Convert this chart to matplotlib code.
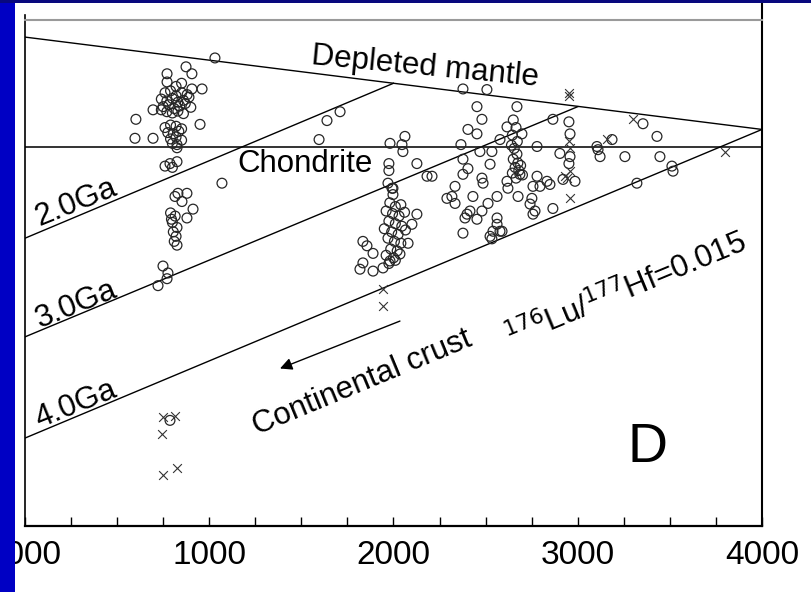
import numpy as np
import matplotlib
matplotlib.use('Agg')
import matplotlib.pyplot as plt
from matplotlib.patches import Rectangle

plt.rcParams['font.family'] = ['Liberation Sans', 'DejaVu Sans']

# axis settings (age in Ma, epsilon Hf)
x_ticks = [0, 1000, 2000, 3000, 4000]
x_tick_labels = ['0000', '1000', '2000', '3000', '4000']
x_range = (0, 4000)
y_range = (-60, 20)

# reference curves
dm_age = [0, 4000]
dm_eps = [17.3, 2.7]
chur_eps = 0.0
crust_age = {'2.0Ga': [0, 2000], '3.0Ga': [0, 3000], '4.0Ga': [0, 4000]}
crust_eps = {'2.0Ga': [-14.5, 10.0], '3.0Ga': [-30.1, 6.3], '4.0Ga': [-46.1, 2.7]}

# zircon analyses, circles
circ_age = [
    1031, 874, 771, 906, 771, 961, 906,
    760, 790, 820, 850, 880, 740, 770, 800, 830, 860, 890, 750, 780, 810, 840, 870,
    800, 830, 860, 770, 740, 900, 820, 850,
    695, 602, 950, 597, 695,
    760, 790, 820, 850, 775, 805, 835, 790, 820, 850, 800, 825, 825,
    787, 825, 760, 800,
    830, 879, 814, 852, 912, 879,
    790, 815, 800, 825, 805, 820, 810, 825, 795,
    1069, 749, 776, 722, 771,
    1710, 1639, 1596,
    1981, 2062, 2051, 2046, 1975, 1975, 2127, 2182, 1970, 1997, 1997, 1992,
    1980, 2010, 2040, 1960, 1995, 2030, 2060, 1975, 2010, 2045, 1950, 1990, 2025, 2065,
    1970, 2005, 2040, 1985, 2020, 1960, 2000, 2035, 1975, 2010,
    2127, 2100, 2079, 1834, 1856, 1889, 1834, 1889, 1943, 1818, 1981,
    2377, 2507, 2453, 2670, 2480, 2404, 2453, 2366, 2469, 2534, 2578, 2616,
    2650, 2665, 2645, 2672, 2655, 2640, 2670, 2650, 2675, 2660, 2680, 2645, 2690, 2700, 2665,
    2697, 2779, 2377, 2404, 2377, 2524, 2480, 2486, 2616, 2621,
    2334, 2317, 2334, 2431, 2562, 2513, 2415, 2480, 2388, 2453,
    2562, 2562, 2589, 2524, 2377, 2676, 2751, 2757, 2779, 2795, 2209,
    2290, 2399, 2540, 2534, 2578, 2686, 2741, 2768, 2865, 2833, 2757, 2920, 2985, 2849,
    2952, 2958, 2958, 2952, 2903, 2865,
    3354, 3430, 3186, 3110, 3104, 3121, 3256, 3446, 3511, 3517, 3321, 787,
]
circ_eps = [
    14.0, 12.6, 11.5, 11.5, 10.2, 9.1, 9.1,
    8.5, 8.8, 8.0, 8.5, 8.2, 7.5, 7.2, 7.6, 7.0, 7.3, 7.8, 6.3, 6.6, 6.0, 6.4, 6.8,
    5.3, 5.6, 5.2, 5.5, 5.8, 6.2, 9.5, 10.0,
    5.8, 4.3, 3.5, 1.3, 1.3,
    3.0, 3.4, 3.2, 2.8, 2.2, 2.0, 2.4, 1.2, 1.5, 1.0, 0.5, 0.3, -0.2,
    -2.7, -2.4, -3.1, -3.3,
    -7.4, -7.4, -7.9, -8.7, -9.9, -11.3,
    -10.5, -11.0, -12.0, -12.8, -13.5, -14.2, -15.0, -15.6, -11.5,
    -5.8, -18.9, -20.0, -22.0, -20.9,
    5.5, 4.1, 1.1,
    0.5, 1.6, -0.8, 0.3, -2.7, -3.8, -2.7, -4.7, -5.8, -6.6, -7.6, -6.6,
    -8.9, -9.5, -9.2, -10.2, -10.6, -11.0, -10.4, -11.8, -12.2, -12.6, -13.0, -13.5, -13.9, -13.2,
    -14.5, -15.0, -15.3, -16.2, -16.5, -17.2, -17.6, -17.0, -18.5, -18.0,
    -10.7, -12.3, -15.3, -15.0, -15.7, -16.9, -18.4, -19.7, -19.2, -19.4, -18.1,
    9.1, 9.0, 6.3, 6.3, 4.3, 2.7, 2.0, 0.3, -0.8, -0.8, 1.1, 3.1,
    4.2, 3.0, 1.8, 0.8, -0.3, 0.2, -1.2, -2.0, -2.6, -3.3, -3.8, -4.2, -3.0, -4.5, -5.0,
    2.0, 0.0, -2.0, -3.5, -4.4, -2.8, -5.0, -5.8, -5.5, -6.6,
    -6.3, -7.9, -9.0, -7.9, -7.9, -9.0, -10.2, -10.2, -11.3, -11.5,
    -11.3, -12.3, -13.4, -14.2, -13.7, -7.9, -8.2, -10.7, -4.7, -6.3, -4.7,
    -8.2, -10.7, -13.4, -14.6, -13.4, -4.4, -9.1, -10.2, -9.8, -5.5, -6.3, -5.2, -5.5, -6.0,
    3.9, 2.0, -1.6, -2.7, -1.1, 4.3,
    3.6, 1.6, 1.1, -0.5, 0.0, -1.6, -1.6, -1.6, -3.1, -3.9, -5.8, -43.3,
]

# zircon analyses, crosses
cross_age = [2952, 2952, 2952, 2958, 2958, 2930, 2958, 2941,
             3300, 3160, 3799, 1943, 1943, 749, 814, 744, 749, 825]
cross_eps = [8.5, 8.0, 0.8, -0.3, -3.9, -4.6, -8.2, -5.0,
             4.3, 1.2, -0.8, -22.5, -25.2, -42.8, -42.6, -45.4, -52.0, -50.9]

# crust evolution arrow (tail, head)
arrow_tail = (2035, -27.6)
arrow_head = (1384, -35.1)

fig = plt.figure(figsize=(8.11, 5.92), dpi=100, facecolor='white')
ax = fig.add_axes([0.0308, 0.1115, 0.9088, 0.8547])
ax.set_xlim(*x_range)
ax.set_ylim(*y_range)

ax.plot(dm_age, dm_eps, color='black', lw=1.0)
ax.axhline(chur_eps, color='#333333', lw=1.4)
for k in crust_age:
    ax.plot(crust_age[k], crust_eps[k], color='black', lw=1.0)

ax.scatter(circ_age, circ_eps, s=50, facecolors='none', edgecolors='#262626',
           linewidths=0.9, zorder=3)
ax.scatter(cross_age, cross_eps, s=40, marker='x', color='#333333',
           linewidths=0.8, zorder=3)

ax.annotate('', xy=arrow_head, xytext=arrow_tail,
            arrowprops=dict(arrowstyle='-|>', color='black', lw=1.0,
                            mutation_scale=18, shrinkA=0, shrinkB=0))

fs = 22.5
ax.text(2171, 12.6, 'Depleted mantle', fontsize=fs, rotation=-5.5,
        ha='center', va='center', rotation_mode='anchor')
ax.text(1520, -2.8, 'Chondrite', fontsize=fs, ha='center', va='center')
ax.text(277, -8.9, '2.0Ga', fontsize=fs, rotation=22, ha='center', va='center',
        rotation_mode='anchor')
ax.text(277, -25.0, '3.0Ga', fontsize=fs, rotation=22, ha='center', va='center',
        rotation_mode='anchor')
ax.text(277, -40.8, '4.0Ga', fontsize=fs, rotation=22, ha='center', va='center',
        rotation_mode='anchor')
ax.text(1829, -37.4, 'Continental crust', fontsize=fs, rotation=22.5,
        ha='center', va='center', rotation_mode='anchor')
ax.text(3262, -22.8, r'$^{176}$Lu/$^{177}$Hf=0.015', fontsize=fs, rotation=22.5,
        ha='center', va='center', rotation_mode='anchor')
ax.text(3376, -47.6, 'D', fontsize=40, ha='center', va='center')

ax.set_xticks(x_ticks)
ax.set_xticklabels(x_tick_labels)
ax.set_xticks(np.arange(0, 4001, 250), minor=True)
ax.set_yticks([])
ax.tick_params(axis='x', which='both', direction='in', length=6.5, width=1.0,
               labelsize=24, pad=10, top=False)
ax.spines['top'].set_color('#9a9a9a')
ax.spines['top'].set_linewidth(1.5)
ax.spines['bottom'].set_linewidth(1.6)
ax.spines['left'].set_linewidth(1.2)
ax.spines['right'].set_linewidth(1.5)
ax.spines['right'].set_bounds(-60, 22.6)
ax.spines['left'].set_bounds(-60, 20.8)

# slide frame on the left and top
fig.patches.append(Rectangle((0, 0), 15 / 811, 1, transform=fig.transFigure,
                             facecolor='#0000c4', edgecolor='none', zorder=10))
fig.patches.append(Rectangle((0, 1 - 3 / 592), 1, 3 / 592, transform=fig.transFigure,
                             facecolor='#08087e', edgecolor='none', zorder=10))

fig.savefig('out.png', dpi=100, facecolor='white')
